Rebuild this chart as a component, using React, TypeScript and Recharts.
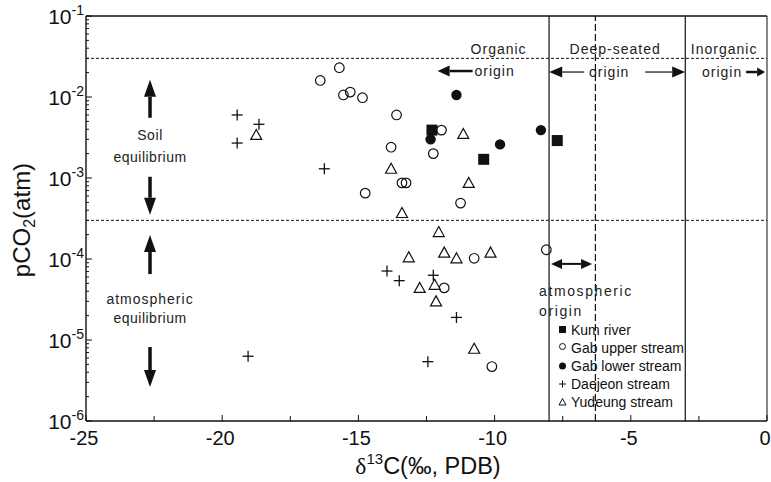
import React from 'react'
import { ScatterChart, Scatter, XAxis, YAxis, ReferenceLine, ReferenceDot, Legend } from 'recharts'

// d13C (permil) vs pCO2 (atm)
const kumRiver = [
  { x: -12.3, y: 3.9e-3 },
  { x: -10.4, y: 1.7e-3 },
  { x: -7.7, y: 2.9e-3 },
]
const gabUpper = [
  { x: -15.7, y: 2.3e-2 },
  { x: -16.4, y: 1.6e-2 },
  { x: -15.55, y: 1.06e-2 },
  { x: -15.3, y: 1.15e-2 },
  { x: -14.85, y: 9.8e-3 },
  { x: -14.75, y: 6.5e-4 },
  { x: -13.6, y: 6.0e-3 },
  { x: -11.95, y: 3.9e-3 },
  { x: -13.8, y: 2.4e-3 },
  { x: -12.25, y: 2.0e-3 },
  { x: -13.4, y: 8.7e-4 },
  { x: -13.25, y: 8.7e-4 },
  { x: -11.25, y: 4.9e-4 },
  { x: -8.1, y: 1.3e-4 },
  { x: -10.75, y: 1.02e-4 },
  { x: -11.85, y: 4.4e-5 },
  { x: -10.1, y: 4.7e-6 },
]
const gabLower = [
  { x: -11.4, y: 1.06e-2 },
  { x: -12.35, y: 3.0e-3 },
  { x: -9.8, y: 2.6e-3 },
  { x: -8.3, y: 3.9e-3 },
]
const daejeon = [
  { x: -19.45, y: 6.0e-3 },
  { x: -19.45, y: 2.7e-3 },
  { x: -18.65, y: 4.6e-3 },
  { x: -16.25, y: 1.3e-3 },
  { x: -13.95, y: 7.1e-5 },
  { x: -13.5, y: 5.4e-5 },
  { x: -12.25, y: 6.3e-5 },
  { x: -11.4, y: 1.9e-5 },
  { x: -12.45, y: 5.4e-6 },
  { x: -19.05, y: 6.3e-6 },
]
const yudeung = [
  { x: -18.75, y: 3.4e-3 },
  { x: -11.15, y: 3.5e-3 },
  { x: -13.8, y: 1.3e-3 },
  { x: -10.95, y: 8.7e-4 },
  { x: -13.4, y: 3.7e-4 },
  { x: -12.05, y: 2.15e-4 },
  { x: -13.15, y: 1.05e-4 },
  { x: -11.85, y: 1.2e-4 },
  { x: -11.4, y: 1.02e-4 },
  { x: -10.15, y: 1.2e-4 },
  { x: -12.75, y: 4.4e-5 },
  { x: -12.2, y: 4.8e-5 },
  { x: -12.15, y: 3.0e-5 },
  { x: -10.75, y: 7.8e-6 },
]

const xTicks = [-25, -22.5, -20, -17.5, -15, -12.5, -10, -7.5, -5, -2.5, 0]
const xLabels = [-25, -20, -15, -10, -5, 0]
const decades = [1e-6, 1e-5, 1e-4, 1e-3, 1e-2, 1e-1]
const yTicks = decades.flatMap((d, i) =>
  i === decades.length - 1 ? [d] : [1, 2, 3, 4, 5, 6, 7, 8, 9].map(m => m * d)
)

const soilLimit = 0.03
const atmLimit = 3e-4
const organicEdge = -8
const mantleLine = -6.3
const inorganicEdge = -3

const font = '"Liberation Sans", Arial, Helvetica, sans-serif'
const ink = '#111'

const isDecade = (v: number) => Math.abs(Math.log10(v) - Math.round(Math.log10(v))) < 1e-6

function XTick({ x, y, payload }: any) {
  const major = xLabels.includes(payload.value)
  return (
    <g>
      <line x1={x} y1={y} x2={x} y2={y - (major ? 6 : 5)} stroke={ink} strokeWidth={1} />
      {major && (
        <text x={x - 2} y={y + 24} textAnchor="middle" fontSize={20} fontFamily={font} fill={ink}>
          {payload.value}
        </text>
      )}
    </g>
  )
}

function YTick({ x, y, payload }: any) {
  const major = isDecade(payload.value)
  const exp = Math.round(Math.log10(payload.value))
  return (
    <g>
      <line x1={x} y1={y} x2={x + (major ? 6 : 3)} y2={y} stroke={ink} strokeWidth={1} />
      {major && (
        <text x={x - 2} y={y + 8} textAnchor="end" fontSize={21} fontFamily={font} fill={ink}>
          <tspan>10</tspan>
          <tspan dy={-9} fontSize={14}>{exp}</tspan>
        </text>
      )}
    </g>
  )
}

function Arrow({ x1, y1, x2, y2, w = 2, head = 12, hw = 10, both = false }: any) {
  const len = Math.hypot(x2 - x1, y2 - y1)
  const ux = (x2 - x1) / len
  const uy = (y2 - y1) / len
  const bx = x2 - ux * head
  const by = y2 - uy * head
  const sx = both ? x1 + ux * head : x1
  const sy = both ? y1 + uy * head : y1
  const tri = (tx: number, ty: number, ax: number, ay: number) =>
    `${tx},${ty} ${ax - uy * hw / 2},${ay + ux * hw / 2} ${ax + uy * hw / 2},${ay - ux * hw / 2}`
  return (
    <g>
      <line x1={sx} y1={sy} x2={bx} y2={by} stroke={ink} strokeWidth={w} />
      <polygon points={tri(x2, y2, bx, by)} fill={ink} />
      {both && <polygon points={tri(x1, y1, sx, sy)} fill={ink} />}
    </g>
  )
}

const noteText = { fontSize: 14, fontFamily: font, fill: '#222' }

const SoilNote = ({ cx, cy }: any) => (
  <g>
    <Arrow x1={cx} y1={cy - 28} x2={cx} y2={cy - 66} w={3.5} head={17} hw={12} />
    <text x={cx} y={cy - 6} textAnchor="middle" letterSpacing={0.6} {...noteText}>Soil</text>
    <text x={cx} y={cy + 16} textAnchor="middle" letterSpacing={0.5} {...noteText}>equilibrium</text>
    <Arrow x1={cx} y1={cy + 31} x2={cx} y2={cy + 69} w={3.5} head={17} hw={12} />
  </g>
)

const AtmNote = ({ cx, cy }: any) => (
  <g>
    <Arrow x1={cx} y1={cy - 34} x2={cx} y2={cy - 73} w={3.5} head={17} hw={12} />
    <text x={cx} y={cy - 4} textAnchor="middle" letterSpacing={1} {...noteText}>atmospheric</text>
    <text x={cx} y={cy + 15} textAnchor="middle" letterSpacing={0.5} {...noteText}>equilibrium</text>
    <Arrow x1={cx} y1={cy + 39} x2={cx} y2={cy + 79} w={3.5} head={17} hw={12} />
  </g>
)

const OrganicNote = ({ cx, cy }: any) => (
  <g>
    <text x={cx + 4} y={cy - 6} textAnchor="middle" letterSpacing={1} {...noteText}>Organic</text>
    <text x={cx} y={cy + 16} textAnchor="middle" letterSpacing={1} {...noteText}>origin</text>
    <Arrow x1={cx - 22} y1={cy + 11} x2={cx - 57} y2={cy + 11} w={2.5} head={12} hw={11} />
  </g>
)

const DeepNote = ({ cx, cy }: any) => (
  <g>
    <text x={cx - 2} y={cy - 6} textAnchor="middle" letterSpacing={1} {...noteText}>Deep-seated</text>
    <text x={cx - 8} y={cy + 17} textAnchor="middle" letterSpacing={1} {...noteText}>origin</text>
    <Arrow x1={cx - 33} y1={cy + 12} x2={cx - 68} y2={cy + 12} w={1.2} head={13} hw={11} />
    <Arrow x1={cx + 28} y1={cy + 12} x2={cx + 68} y2={cy + 12} w={1.2} head={13} hw={11} />
  </g>
)

const InorganicNote = ({ cx, cy }: any) => (
  <g>
    <text x={cx - 2} y={cy - 6} textAnchor="middle" letterSpacing={1} {...noteText}>Inorganic</text>
    <text x={cx - 4} y={cy + 17} textAnchor="middle" letterSpacing={1} {...noteText}>origin</text>
    <Arrow x1={cx + 20} y1={cy + 12} x2={cx + 39} y2={cy + 12} w={2.5} head={8} hw={9} />
  </g>
)

const AtmOriginNote = ({ cx, cy }: any) => (
  <g>
    <Arrow x1={cx + 2} y1={cy} x2={cx + 43} y2={cy} w={2} head={11} hw={10} both />
    <text x={cx - 10} y={cy + 32} letterSpacing={1.6} {...noteText}>atmospheric</text>
    <text x={cx - 10} y={cy + 52} letterSpacing={1.6} {...noteText}>origin</text>
  </g>
)

const XTitle = () => (
  <text x={428} y={474} textAnchor="middle" fontSize={23.5} fontFamily={font} fill={ink}>
    <tspan fontFamily='"Liberation Serif", "Times New Roman", serif'>δ</tspan>
    <tspan dy={-10} fontSize={15}>13</tspan>
    <tspan dy={10}>C(‰, PDB)</tspan>
  </text>
)

const YTitle = () => (
  <text x={30} y={220} transform="rotate(-90 30 220)" textAnchor="middle" fontSize={24} fontFamily={font} fill={ink}>
    <tspan>pCO</tspan>
    <tspan dy={5} fontSize={16}>2</tspan>
    <tspan dy={-5}>(atm)</tspan>
  </text>
)

const Square = ({ cx, cy }: any) => <rect x={cx - 5.5} y={cy - 5.5} width={11} height={11} fill={ink} />
const OpenCircle = ({ cx, cy }: any) => <circle cx={cx} cy={cy} r={4.8} fill="white" fillOpacity={0} stroke={ink} strokeWidth={1.2} />
const Dot = ({ cx, cy }: any) => <circle cx={cx} cy={cy} r={5.2} fill={ink} />
const Plus = ({ cx, cy }: any) => (
  <g stroke={ink} strokeWidth={1.3}>
    <line x1={cx - 5.5} y1={cy} x2={cx + 5.5} y2={cy} />
    <line x1={cx} y1={cy - 5.5} x2={cx} y2={cy + 5.5} />
  </g>
)
const Triangle = ({ cx, cy }: any) => (
  <polygon
    points={`${cx},${cy - 5.5} ${cx - 5.5},${cy + 4.5} ${cx + 5.5},${cy + 4.5}`}
    fill="none"
    stroke={ink}
    strokeWidth={1.2}
  />
)

const legendItems = [
  { name: 'Kum river', icon: <rect x={1} y={1} width={7} height={7} fill={ink} /> },
  { name: 'Gab upper stream', icon: <circle cx={4.5} cy={3.5} r={3} fill="none" stroke={ink} strokeWidth={1} /> },
  { name: 'Gab lower stream', icon: <circle cx={4.5} cy={5} r={3.5} fill={ink} /> },
  { name: 'Daejeon stream', icon: <g stroke={ink} strokeWidth={1}><line x1={1} y1={5} x2={8} y2={5} /><line x1={4.5} y1={1.5} x2={4.5} y2={8.5} /></g> },
  { name: 'Yudeung stream', icon: <polygon points="4.5,1.5 1,8 8,8" fill="none" stroke={ink} strokeWidth={1} /> },
]

function LegendBox() {
  return (
    <div style={{ fontFamily: font, fontSize: 14, color: ink, lineHeight: '18px' }}>
      {legendItems.map(item => (
        <div key={item.name} style={{ display: 'flex', alignItems: 'center', whiteSpace: 'nowrap' }}>
          <svg width={10} height={10} style={{ marginRight: 3 }}>{item.icon}</svg>
          <span>{item.name}</span>
        </div>
      ))}
    </div>
  )
}

export default function App() {
  return (
    <div style={{ position: 'absolute', left: 0, top: 0, width: 771, height: 482, background: 'white' }}>
      <ScatterChart width={771} height={482} margin={{ top: 16, right: 4, bottom: 0, left: 0 }}>
        <XAxis
          type="number"
          dataKey="x"
          domain={[-25, 0]}
          ticks={xTicks}
          interval={0}
          height={61}
          tickSize={0}
          tickMargin={0}
          tickLine={false}
          tick={<XTick />}
          axisLine={{ stroke: ink, strokeWidth: 1.6 }}
          allowDataOverflow
          label={{ content: XTitle }}
        />
        <YAxis
          type="number"
          dataKey="y"
          scale="log"
          domain={[1e-6, 1e-1]}
          ticks={yTicks}
          interval={0}
          width={86}
          tickSize={0}
          tickMargin={0}
          tickLine={false}
          tick={<YTick />}
          axisLine={{ stroke: ink, strokeWidth: 1.4 }}
          allowDataOverflow
          label={{ content: YTitle }}
        />

        <ReferenceLine y={1e-1} stroke={ink} strokeWidth={1.5} />
        <ReferenceLine x={0} stroke={ink} strokeWidth={1} />
        <ReferenceLine y={soilLimit} stroke={ink} strokeWidth={1} strokeDasharray="3 2" />
        <ReferenceLine y={atmLimit} stroke={ink} strokeWidth={1} strokeDasharray="3 2" />
        <ReferenceLine x={organicEdge} stroke={ink} strokeWidth={1.2} />
        <ReferenceLine x={mantleLine} stroke={ink} strokeWidth={1.2} strokeDasharray="7 3" />
        <ReferenceLine x={inorganicEdge} stroke={ink} strokeWidth={1.2} />

        <ReferenceDot x={-22.65} y={2.5e-3} shape={<SoilNote />} />
        <ReferenceDot x={-22.65} y={2.48e-5} shape={<AtmNote />} />
        <ReferenceDot x={-10} y={0.0286} shape={<OrganicNote />} />
        <ReferenceDot x={-5.5} y={0.0286} shape={<DeepNote />} />
        <ReferenceDot x={-1.5} y={0.0286} shape={<InorganicNote />} />
        <ReferenceDot x={organicEdge} y={8.7e-5} shape={<AtmOriginNote />} />

        <Scatter name="Gab upper stream" data={gabUpper} shape={<OpenCircle />} isAnimationActive={false} />
        <Scatter name="Yudeung stream" data={yudeung} shape={<Triangle />} isAnimationActive={false} />
        <Scatter name="Daejeon stream" data={daejeon} shape={<Plus />} isAnimationActive={false} />
        <Scatter name="Kum river" data={kumRiver} shape={<Square />} isAnimationActive={false} />
        <Scatter name="Gab lower stream" data={gabLower} shape={<Dot />} isAnimationActive={false} />

        <Legend
          layout="vertical"
          align="center"
          verticalAlign="middle"
          content={<LegendBox />}
          wrapperStyle={{ left: 558, top: 321, width: 150 }}
        />
      </ScatterChart>
    </div>
  )
}
